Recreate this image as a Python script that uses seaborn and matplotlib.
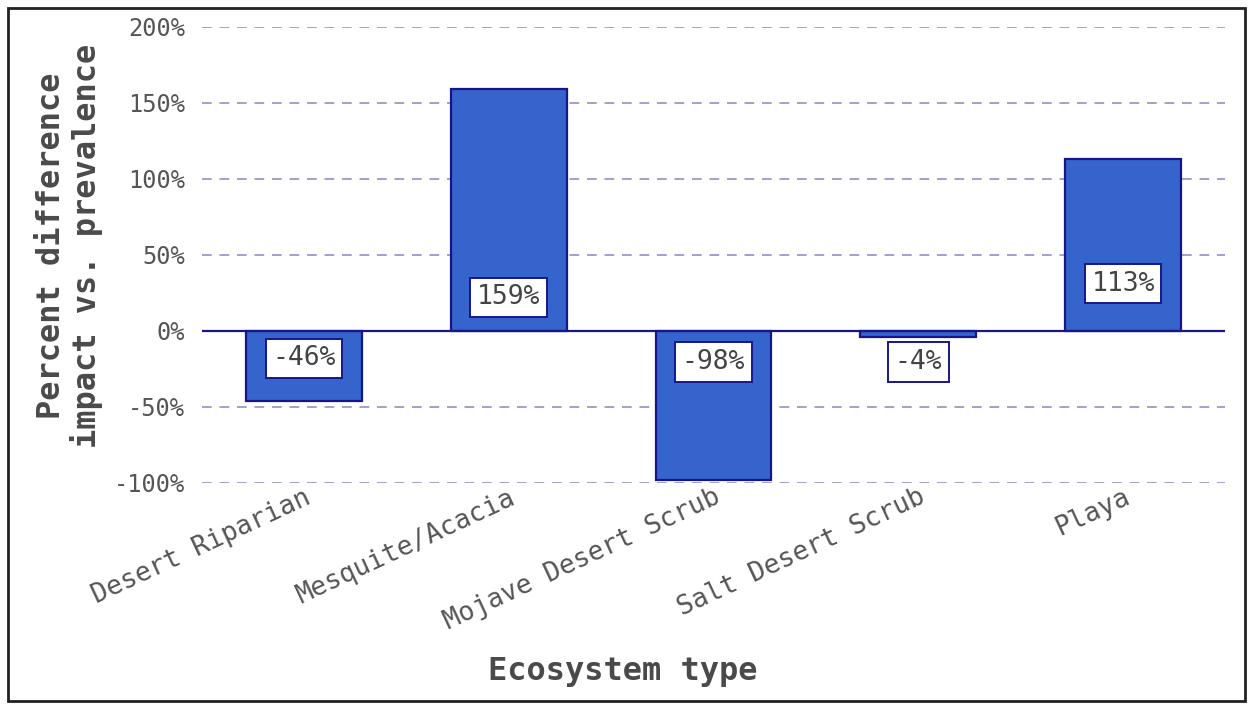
import matplotlib
matplotlib.use("Agg")
import matplotlib.pyplot as plt
from matplotlib.ticker import PercentFormatter
from matplotlib.patches import Rectangle
import seaborn as sns
import pandas as pd

# data
ecosystems = ["Desert Riparian", "Mesquite/Acacia", "Mojave Desert Scrub",
              "Salt Desert Scrub", "Playa"]
pct_diff = [-46, 159, -98, -4, 113]
label_text = ["-46%", "159%", "-98%", "-4%", "113%"]
label_y = [-18, 22, -20.5, -20.5, 31]   # where the boxed labels sit
y_ticks = [-100, -50, 0, 50, 100, 150, 200]

sns.set_style("white")
plt.rcParams["font.family"] = ["DejaVu Sans Mono", "DejaVu Sans"]
plt.rcParams["axes.unicode_minus"] = False

df = pd.DataFrame({"eco": ecosystems, "pct": pct_diff})

fig = plt.figure(figsize=(12.53, 7.05), dpi=100)
ax = fig.add_axes([0.161, 0.315, 0.817, 0.647])

bar_col = "#3464CC"
edge_col = "#16168A"
sns.barplot(data=df, x="eco", y="pct", color=bar_col, saturation=1,
            edgecolor=edge_col, linewidth=1.6, width=0.565, ax=ax, zorder=3)

ax.axhline(0, color=edge_col, lw=1.6, zorder=4)

# boxed value labels inside the bars
for i, (t, y) in enumerate(zip(label_text, label_y)):
    ax.text(i, y, t, ha="center", va="center", fontsize=19, color="#444444",
            zorder=5,
            bbox=dict(boxstyle="square,pad=0.25", fc="white", ec=edge_col, lw=1.4))

ax.set_xlim(-0.5, 4.5)
ax.set_ylim(-100, 200)
ax.set_yticks(y_ticks)
ax.yaxis.set_major_formatter(PercentFormatter(decimals=0))
ax.grid(axis="y", color="#A0A0D4", ls=(0, (5, 4)), lw=1.4, zorder=0)
ax.grid(axis="x", visible=False)
for s in ax.spines.values():
    s.set_visible(False)

ax.tick_params(axis="y", length=0, pad=12, labelsize=17, labelcolor="#555555")
ax.tick_params(axis="x", length=0, pad=1, labelsize=19, labelcolor="#555555")
for lab in ax.get_xticklabels():
    lab.set_rotation(25)
    lab.set_ha("right")
    lab.set_rotation_mode("anchor")

ax.set_xlabel("Ecosystem type", fontsize=23, fontweight="bold", color="#4a4a4a")
ax.set_ylabel("Percent difference\nimpact vs. prevalence", fontsize=23,
              fontweight="bold", color="#4a4a4a", linespacing=1.15)
ax.xaxis.set_label_coords(0.411, -0.38)
ax.yaxis.set_label_coords(-0.096, 0.52)

# thin frame round the whole picture
fig.patches.append(Rectangle((0.006, 0.006), 0.988, 0.982, transform=fig.transFigure,
                             fill=False, ec="#222222", lw=2))

fig.savefig("out.png", dpi=100)
